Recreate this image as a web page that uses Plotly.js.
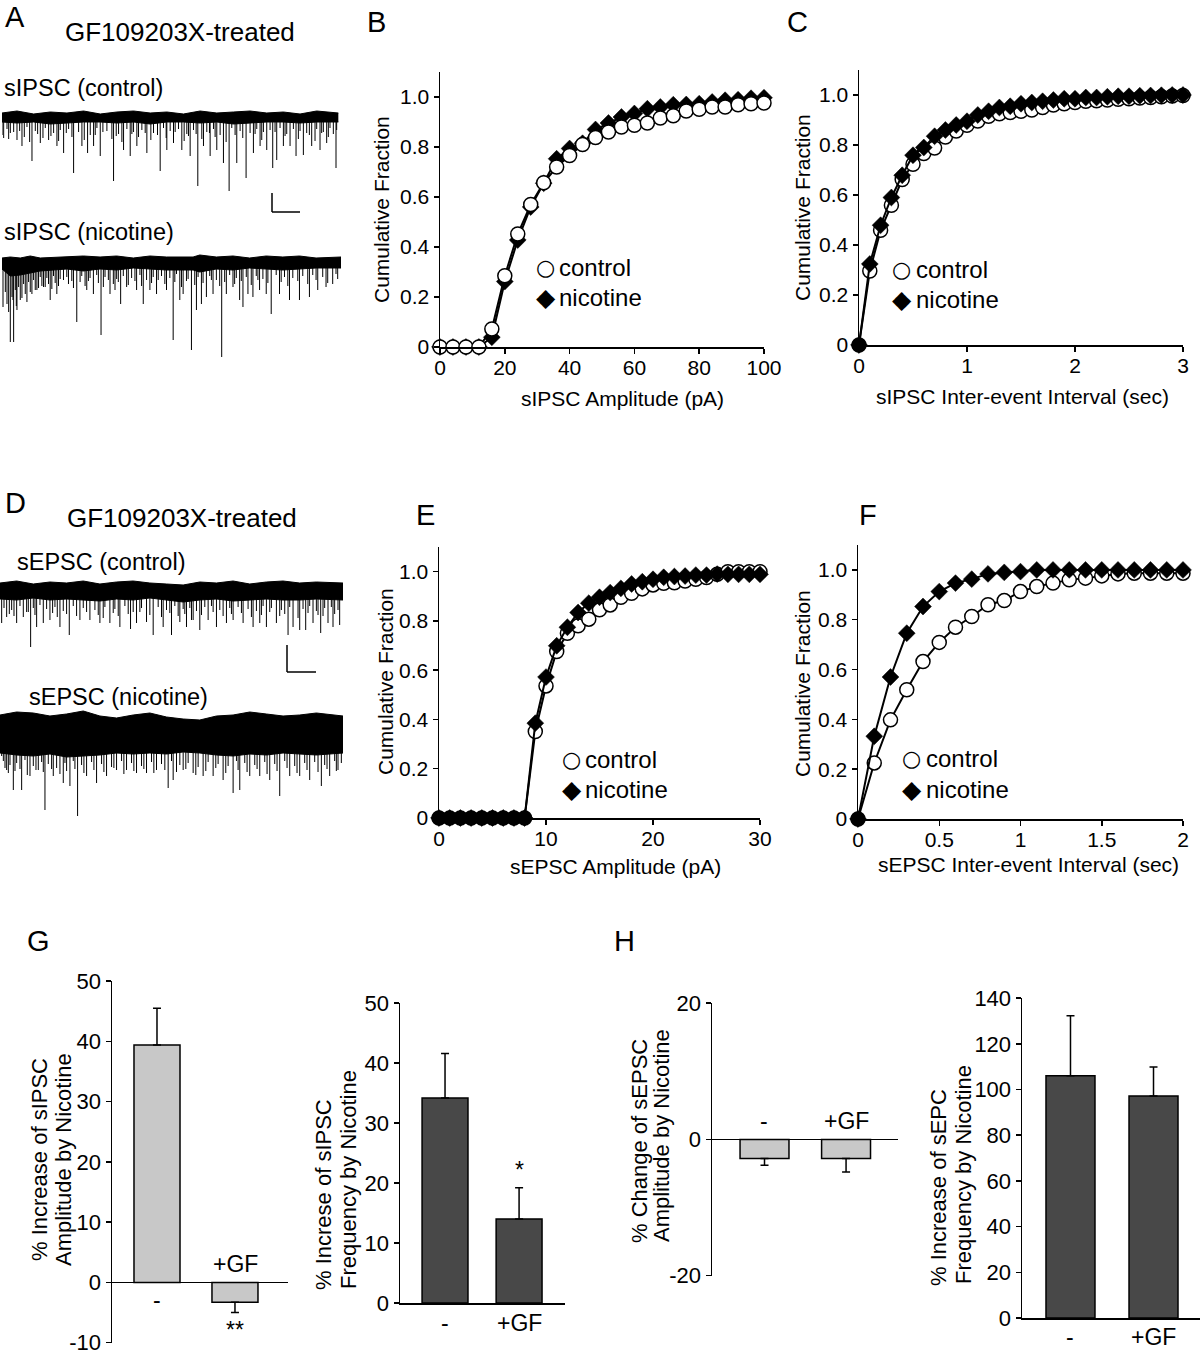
<!DOCTYPE html>
<html><head><meta charset="utf-8">
<script src="https://cdn.plot.ly/plotly-3.0.1.min.js"></script>
<style>html,body{margin:0;padding:0;background:#fff}#chart{width:1200px;height:1354px}</style>
</head><body><div id="chart"></div>
<script>
// ---------- Panel A/D traces (time in s, amplitude in pA, negative = inward) ----------
// large events
const ctlA_t = [0.10,0.30,0.50,0.65,0.95,1.20,1.45,1.70,1.90,2.20,2.45,2.62,2.80,3.00,3.40,3.70,3.90,4.10,4.40,4.80,5.00,5.20,5.45,5.70,5.93,6.10,6.30,6.50,6.70,6.87,7.10,7.38,7.60,7.80,8.00,8.18,8.30,8.50,8.70,8.88,9.10,9.35,9.60,9.80,10.08];
const ctlA_d = [21,16,23,29,44,26,23,29,36,56,29,36,29,39,64,33,39,29,36,54,33,26,33,39,69,29,39,33,46,74,46,61,36,29,33,51,43,29,29,39,38,29,33,26,51];
// medium events
const ctlA_mt = [0.05,0.25,0.58,0.72,0.88,1.12,1.28,1.52,1.75,1.98,2.15,2.52,2.85,3.08,3.35,3.48,3.65,3.95,4.15,4.35,4.52,4.72,4.98,5.25,5.52,5.65,5.88,6.05,6.28,6.45,6.78,7.05,7.28,7.65,7.85,8.25,8.55,8.95,9.28,9.45,9.65,9.85,10.0];
const ctlA_md = [18,22,14,20,25,17,21,19,24,16,20,23,18,15,22,19,25,17,20,16,23,18,21,15,24,19,17,22,16,20,25,18,21,17,23,15,19,22,18,24,16,20,17];
// small events
const ctlA_st = [0.2,0.4,0.8,1.05,1.35,1.6,1.8,2.05,2.35,2.7,2.9,3.2,3.55,3.8,4.0,4.25,4.6,4.9,5.1,5.35,5.6,5.8,6.2,6.4,6.6,6.95,7.2,7.5,7.7,7.9,8.1,8.4,8.6,8.8,9.0,9.2,9.5,9.7,9.9,10.1];
const ctlA_sd = [12,15,10,14,11,16,13,12,15,18,11,14,17,12,15,13,16,11,14,12,17,13,15,12,18,11,14,16,12,15,13,11,17,12,14,16,12,15,11,13];
// baseline noise envelope
const ctlA_envT = [0.05,0.5,1,1.5,2,2.5,3,3.5,4,4.5,5,5.5,6,6.5,7,7.5,8,8.5,9,9.5,10.15];
const ctlA_up = [4,6,3,5,4,6,3,5,6,4,5,3,6,4,5,6,4,5,3,6,4];
const ctlA_lo = [-5,-6,-5,-7,-6,-5,-5,-6,-5,-7,-5,-5,-6,-5,-7,-6,-5,-5,-6,-5,-5];

const nicA_t = [0.30,0.40,0.50,0.60,0.75,0.95,1.10,1.30,1.50,1.70,1.90,2.30,2.60,2.80,3.03,3.30,3.45,3.62,3.80,4.10,4.30,4.50,4.70,5.00,5.20,5.40,5.50,5.75,5.90,6.05,6.20,6.40,6.66,6.80,7.00,7.20,7.30,7.45,7.60,7.80,8.00,8.15,8.40,8.70,9.00,9.30,9.55,9.80,10.00];
const nicA_d = [80,80,48,38,32,32,28,25,38,32,18,60,28,32,73,32,28,42,25,28,42,28,32,28,78,38,32,88,48,42,35,32,95,32,25,38,45,32,35,28,32,52,32,38,38,35,28,25,22];
const nicA_mt = [0.08,0.2,0.25,0.38,0.48,0.65,0.8,0.9,1.05,1.15,1.25,1.35,1.45,1.55,1.65,1.75,2.05,2.2,2.4,2.55,2.65,2.95,3.1,3.25,3.4,3.55,3.85,4.05,4.25,4.55,4.75,4.95,5.25,5.45,5.6,5.85,6.1,6.35,6.6,6.75,7.05,7.25,7.55,7.75,8.05,8.45,8.65,8.95,9.25,9.5,9.85,10.15];
const nicA_md = [45,42,50,38,44,36,40,30,28,26,24,25,22,27,21,24,22,26,20,24,19,21,25,18,22,20,23,19,24,21,18,22,20,25,19,23,21,18,24,20,22,19,23,18,21,20,24,19,22,18,21,17];
const nicA_st = [0.15,0.35,0.45,0.55,0.7,0.85,1.0,1.2,1.4,1.6,1.8,2.0,2.15,2.45,2.7,2.9,3.15,3.5,3.7,3.95,4.2,4.4,4.6,4.85,5.1,5.3,5.65,5.95,6.3,6.5,6.9,7.1,7.4,7.7,7.9,8.3,8.55,8.8,9.1,9.4,9.7,10.1];
const nicA_sd = [30,35,28,25,22,20,18,15,16,14,17,15,19,14,16,13,15,17,14,16,13,18,15,14,16,12,17,15,14,18,13,16,15,14,17,13,15,16,14,13,15,12];
const nicA_envT = [0.05,0.3,0.6,0.9,1.2,2,2.5,3,3.5,4,4.5,5,5.8,6,6.5,7,7.5,8,8.5,9,9.5,10.25];
const nicA_up = [4,5,4,6,4,5,6,5,6,4,6,5,5,7,5,6,4,6,5,6,4,5];
const nicA_lo = [-7,-14,-13,-11,-9,-7,-9,-7,-8,-6,-7,-8,-8,-10,-7,-8,-6,-7,-8,-7,-6,-6];

const ctlD_t = [0.05,0.20,0.50,0.70,0.92,1.10,1.30,1.50,1.80,2.08,2.40,2.70,3.00,3.30,3.60,3.92,4.10,4.40,4.60,4.90,5.15,5.40,5.60,5.80,6.00,6.25,6.50,6.80,7.00,7.30,7.60,7.80,8.00,8.30,8.65,8.80,9.00,9.18,9.40,9.63,9.85,10.00,10.20];
const ctlD_d = [33,27,33,27,57,37,33,30,37,45,30,30,33,33,37,39,33,32,45,37,45,32,37,30,40,30,37,33,30,33,37,33,37,33,45,37,40,40,33,43,33,37,35];
const ctlD_mt = [0.28,0.42,0.85,1.05,1.58,1.72,2.0,2.3,2.6,2.95,3.1,3.4,3.55,3.85,4.2,4.5,4.85,5.1,5.35,5.55,5.75,6.05,6.4,6.7,6.95,7.25,7.55,7.85,8.1,8.4,8.55,8.95,9.25,9.55,9.7,10.05];
const ctlD_md = [24,26,22,25,23,27,24,26,22,25,28,23,26,24,22,25,27,23,26,24,30,25,22,26,24,23,27,25,22,26,24,28,23,25,26,24];
const ctlD_st = [0.12,0.35,0.6,0.8,1.0,1.2,1.4,1.65,1.9,2.2,2.5,2.85,3.15,3.45,3.75,4.0,4.25,4.75,5.0,5.25,5.5,5.7,5.9,6.15,6.35,6.6,6.9,7.15,7.45,7.7,7.9,8.15,8.45,8.7,9.1,9.3,9.5,9.75,9.95,10.15];
const ctlD_sd = [18,20,16,22,18,15,19,17,21,16,18,20,17,19,16,22,18,17,20,16,19,18,21,17,16,20,18,17,19,21,16,18,20,17,19,16,21,18,17,20];
const ctlD_envT = [0,0.5,1,1.5,2,2.5,3,3.5,4,4.5,5,5.5,6,6.5,7,7.5,8,8.5,9,9.5,10.3];
const ctlD_up = [7,9,6,8,7,9,6,8,9,7,6,5,8,7,9,6,8,9,7,8,7];
const ctlD_lo = [-9,-10,-8,-10,-9,-10,-11,-9,-10,-8,-10,-12,-10,-9,-11,-10,-9,-10,-10,-9,-10];

const nicD_t = [0.05,0.20,0.40,0.65,0.90,1.15,1.35,1.60,1.90,2.10,2.33,2.60,2.90,3.20,3.50,3.80,4.10,4.40,4.70,5.05,5.20,5.50,5.80,6.10,6.40,6.70,7.00,7.20,7.50,7.80,8.10,8.40,8.70,9.00,9.30,9.65,9.90,10.15];
const nicD_d = [23,37,57,57,43,37,77,43,50,53,83,43,50,43,37,37,40,40,37,55,47,37,40,43,43,47,60,57,43,43,47,63,43,43,47,53,43,37];
const nicD_mt = [0.15,0.25,0.45,0.6,0.82,1.08,1.3,1.55,1.8,2.0,2.25,2.52,2.82,3.12,3.42,3.72,4.02,4.32,4.62,4.95,5.3,5.58,5.88,6.18,6.48,6.78,7.15,7.42,7.72,8.02,8.32,8.62,8.92,9.22,9.55,9.82,10.1];
const nicD_md = [35,40,38,36,42,37,39,36,41,38,36,40,37,39,35,41,38,36,40,37,39,36,42,38,35,40,37,39,36,41,38,35,40,37,39,36,38];
const nicD_st = [0.1,0.3,0.5,0.75,1.0,1.25,1.45,1.7,1.95,2.2,2.45,2.75,3.05,3.35,3.65,3.95,4.25,4.55,4.85,5.15,5.4,5.65,5.95,6.25,6.55,6.85,7.1,7.35,7.65,7.95,8.25,8.55,8.85,9.15,9.45,9.75,10.05,10.25];
const nicD_sd = [28,32,30,27,33,29,31,35,30,28,32,29,31,34,28,30,33,29,31,28,32,30,34,29,31,33,28,30,32,29,31,28,33,30,29,32,28,30];
const nicD_envT = [0,0.5,1,1.5,2,2.5,3,3.5,4,4.5,5,5.5,6,6.5,7,7.5,8,8.5,9,9.5,10.3];
const nicD_up = [18,21,20,17,19,22,17,15,18,20,16,14,13,17,18,21,19,17,18,20,17];
const nicD_lo = [-20,-22,-23,-21,-24,-23,-22,-20,-21,-20,-21,-19,-20,-22,-23,-21,-22,-20,-21,-22,-20];

// ---------- Panel B: sIPSC amplitude cumulative ----------
const B_x = [0,4,8,12,16,20,24,28,32,36,40,44,48,52,56,60,64,68,72,76,80,84,88,92,96,100];
const B_ctl = [0,0,0,0,0.072,0.285,0.452,0.57,0.657,0.72,0.766,0.81,0.838,0.86,0.88,0.887,0.896,0.916,0.925,0.944,0.951,0.96,0.96,0.969,0.973,0.976];
const B_nic = [0,0,0,0,0.039,0.262,0.428,0.56,0.655,0.753,0.794,0.815,0.87,0.896,0.92,0.934,0.953,0.96,0.969,0.97,0.973,0.98,0.987,0.989,0.995,0.997];

// ---------- Panel C: sIPSC inter-event interval cumulative ----------
const C_x = [0,0.1,0.2,0.3,0.4,0.5,0.6,0.7,0.8,0.9,1.0,1.1,1.2,1.3,1.4,1.5,1.6,1.7,1.8,1.9,2.0,2.1,2.2,2.3,2.4,2.5,2.6,2.7,2.8,2.9,3.0];
const C_ctl = [0,0.296,0.459,0.559,0.662,0.723,0.766,0.788,0.832,0.856,0.879,0.896,0.915,0.925,0.93,0.935,0.94,0.95,0.96,0.965,0.97,0.975,0.977,0.98,0.983,0.985,0.988,0.99,0.993,0.996,0.998];
const C_nic = [0,0.324,0.479,0.59,0.679,0.759,0.79,0.835,0.86,0.88,0.895,0.92,0.935,0.95,0.955,0.965,0.97,0.975,0.98,0.985,0.985,0.99,0.99,0.993,0.995,0.995,0.997,0.998,0.999,1.0,1.0];

// ---------- Panel E: sEPSC amplitude cumulative ----------
const E_x = [0,1,2,3,4,5,6,7,8,9,10,11,12,13,14,15,16,17,18,19,20,21,22,23,24,25,26,27,28,29,30];
const E_ctl = [0,0,0,0,0,0,0,0,0,0.351,0.536,0.676,0.75,0.78,0.807,0.845,0.865,0.896,0.912,0.93,0.946,0.953,0.955,0.962,0.969,0.976,0.989,1.0,1.0,1.0,1.0];
const E_nic = [0,0,0,0,0,0,0,0,0,0.385,0.572,0.699,0.774,0.834,0.872,0.896,0.915,0.932,0.95,0.959,0.969,0.977,0.98,0.982,0.986,0.986,0.99,0.989,0.989,0.989,0.989];

// ---------- Panel F: sEPSC inter-event interval cumulative ----------
const F_x = [0,0.1,0.2,0.3,0.4,0.5,0.6,0.7,0.8,0.9,1.0,1.1,1.2,1.3,1.4,1.5,1.6,1.7,1.8,1.9,2.0];
const F_ctl = [0,0.225,0.398,0.519,0.632,0.709,0.77,0.813,0.86,0.877,0.913,0.933,0.947,0.96,0.967,0.976,0.984,0.987,0.987,0.987,0.987];
const F_nic = [0,0.332,0.57,0.746,0.853,0.913,0.947,0.963,0.984,0.99,0.993,1.0,1.0,1.0,1.0,1.0,1.0,1.0,1.0,1.0,1.0];

// ---------- Panels G/H: bar charts ----------
const barCats = ['-', '+GF'];
const G1_mean = [39.4, -3.3], G1_err = [6.1, 1.7];
const G2_mean = [34.2, 14.0], G2_err = [7.4, 5.2];
const H1_mean = [-2.8, -2.8], H1_err = [1.0, 2.0];
const H2_mean = [106.0, 97.2], H2_err = [26.3, 12.6];

// ================= rendering =================
const W = 1200, H = 1354;
const px = x => x / W, py = y => 1 - y / H;
const FONT = 'Liberation Sans, Arial, Helvetica, sans-serif';
const traces = [];
const layout = {
  width: W, height: H, margin: {l:0, r:0, t:0, b:0},
  paper_bgcolor: '#fff', plot_bgcolor: 'rgba(0,0,0,0)',
  showlegend: false, font: {family: FONT, color: '#000'},
  annotations: [], shapes: []
};
function axName(n, c) { return c + (n === 1 ? '' : n); }
function setAxes(n, x0, x1, yTop, yBot, xr, yr, xo, yo) {
  layout['xaxis' + (n === 1 ? '' : n)] = Object.assign({
    domain: [px(x0), px(x1)], range: xr, anchor: axName(n, 'y'),
    showgrid: false, zeroline: false, fixedrange: true
  }, xo || {});
  layout['yaxis' + (n === 1 ? '' : n)] = Object.assign({
    domain: [py(yBot), py(yTop)], range: yr, anchor: axName(n, 'x'),
    showgrid: false, zeroline: false, fixedrange: true
  }, yo || {});
}
function ann(text, x, y, size, o) {
  layout.annotations.push(Object.assign({
    text: text, x: px(x), y: py(y), xref: 'paper', yref: 'paper',
    showarrow: false, xanchor: 'center', yanchor: 'middle',
    font: {family: FONT, size: size, color: '#000'}
  }, o || {}));
}
const hidden = {visible: false};

// ---- recordings ----
function recording(n, envT, up, lo, events) {
  const xa = axName(n, 'x'), ya = axName(n, 'y');
  traces.push({x: envT, y: up, xaxis: xa, yaxis: ya, type: 'scatter', mode: 'lines', line: {color: '#000', width: 1}, hoverinfo: 'skip'});
  traces.push({x: envT, y: lo, xaxis: xa, yaxis: ya, type: 'scatter', mode: 'lines', fill: 'tonexty', fillcolor: '#000', line: {color: '#000', width: 1}, hoverinfo: 'skip'});
  const sx = [], sy = [];
  events.forEach(ev => ev[0].forEach((v, i) => { sx.push(v, v, null); sy.push(0, -ev[1][i], null); }));
  traces.push({x: sx, y: sy, xaxis: xa, yaxis: ya, type: 'scatter', mode: 'lines', line: {color: '#000', width: 1}, hoverinfo: 'skip', connectgaps: false});
}
setAxes(1, 2, 340, 95, 200, [0.05, 10.2], [-83, 22], hidden, hidden);
recording(1, ctlA_envT, ctlA_up, ctlA_lo, [[ctlA_t, ctlA_d], [ctlA_mt, ctlA_md], [ctlA_st, ctlA_sd]]);
setAxes(2, 2, 341, 240, 365, [0.05, 10.25], [-103, 22], hidden, hidden);
recording(2, nicA_envT, nicA_up, nicA_lo, [[nicA_t, nicA_d], [nicA_mt, nicA_md], [nicA_st, nicA_sd]]);
setAxes(5, 0, 343, 570, 655, [0, 10.3], [-65, 20], hidden, hidden);
recording(5, ctlD_envT, ctlD_up, ctlD_lo, [[ctlD_t, ctlD_d], [ctlD_mt, ctlD_md], [ctlD_st, ctlD_sd]]);
setAxes(6, 0, 343, 700, 822, [0, 10.3], [-89, 33], hidden, hidden);
recording(6, nicD_envT, nicD_up, nicD_lo, [[nicD_t, nicD_d], [nicD_mt, nicD_md], [nicD_st, nicD_sd]]);

// scale bars
function seg(x0, y0, x1, y1) {
  layout.shapes.push({type: 'line', xref: 'paper', yref: 'paper', x0: px(x0), y0: py(y0), x1: px(x1), y1: py(y1), line: {color: '#000', width: 1.5}});
}
seg(272, 193, 272, 212); seg(272, 212, 300, 212);
seg(287, 645, 287, 672); seg(287, 672, 316, 672);

// ---- cumulative plots ----
const cumAx = {showline: true, linecolor: '#000', linewidth: 1.5, ticks: 'outside', ticklen: 5, tickwidth: 1.5, tickcolor: '#000', tickfont: {family: FONT, size: 21, color: '#000'}};
const xCum = Object.assign({}, cumAx, {ticklabelstandoff: -4});
const yCum = Object.assign({}, cumAx, {tickvals: [0, 0.2, 0.4, 0.6, 0.8, 1.0], ticktext: ['0', '0.2', '0.4', '0.6', '0.8', '1.0']});
function cum(n, x, ctl, nic, ctlOnTop) {
  const xa = axName(n, 'x'), ya = axName(n, 'y');
  const fill = ctlOnTop ? '#fff' : ctl.map(v => v === 0 ? '#000' : '#fff');
  const tc = {x: x, y: ctl, xaxis: xa, yaxis: ya, type: 'scatter', mode: 'lines+markers', cliponaxis: false,
    line: {color: '#000', width: 2}, marker: {symbol: 'circle', size: 14, color: fill, line: {color: '#000', width: 1.5}}, hoverinfo: 'skip'};
  const tn = {x: x, y: nic, xaxis: xa, yaxis: ya, type: 'scatter', mode: 'lines+markers', cliponaxis: false,
    line: {color: '#000', width: 2}, marker: {symbol: 'diamond', size: 13, color: '#000', line: {color: '#000', width: 0.5}}, hoverinfo: 'skip'};
  if (ctlOnTop) traces.push(tn, tc); else traces.push(tc, tn);
}
setAxes(3, 440, 764, 72, 347, [0, 100], [0, 1.1], Object.assign({}, xCum, {tickvals: [0, 20, 40, 60, 80, 100]}), yCum);
cum(3, B_x, B_ctl, B_nic, true);
setAxes(4, 859, 1183, 70, 345, [0, 3], [0, 1.1], Object.assign({}, xCum, {tickvals: [0, 1, 2, 3]}), yCum);
cum(4, C_x, C_ctl, C_nic, false);
setAxes(7, 439, 760, 547, 818, [0, 30], [0, 1.1], Object.assign({}, xCum, {tickvals: [0, 10, 20, 30]}), yCum);
cum(7, E_x, E_ctl, E_nic, false);
setAxes(8, 858, 1183, 545, 819, [0, 2], [0, 1.1], Object.assign({}, xCum, {tickvals: [0, 0.5, 1, 1.5, 2], ticktext: ['0', '0.5', '1', '1.5', '2']}), yCum);
cum(8, F_x, F_ctl, F_nic, false);

// ---- bar charts ----
const barY = {showline: true, linecolor: '#000', linewidth: 1.5, ticks: 'outside', ticklen: 5, tickwidth: 1.5, tickcolor: '#000',
  ticklabeloverflow: 'allow', tickfont: {family: FONT, size: 22, color: '#000'}};
function bars(n, mean, err, color, width) {
  traces.push({
    x: [0, 1], y: mean, type: 'bar', width: width, xaxis: axName(n, 'x'), yaxis: axName(n, 'y'),
    marker: {color: color, line: {color: '#000', width: 1.5}}, hoverinfo: 'skip', cliponaxis: false,
    error_y: {type: 'data', symmetric: false, array: mean.map((m, i) => m >= 0 ? err[i] : 0),
      arrayminus: mean.map((m, i) => m < 0 ? err[i] : 0), color: '#000', thickness: 1.5, width: 4}
  });
}
const noX = {showline: false, showticklabels: false, ticks: ''};
const lineX = {showline: true, linecolor: '#000', linewidth: 1.5, showticklabels: false, ticks: ''};
setAxes(9, 112, 288, 981, 1343, [-0.577, 1.68], [-10.06, 50.02], noX,
  Object.assign({}, barY, {tickvals: [-10, 0, 10, 20, 30, 40, 50], ticktext: ['-10', '0', '10', '20', '30', '40', '50'], zeroline: true, zerolinecolor: '#000', zerolinewidth: 1.5}));
bars(9, G1_mean, G1_err, '#c8c8c8', 0.59);
setAxes(10, 400, 565, 1003, 1303, [-0.608, 1.62], [0, 50.02], lineX,
  Object.assign({}, barY, {tickvals: [0, 10, 20, 30, 40, 50]}));
bars(10, G2_mean, G2_err, '#484848', 0.62);
setAxes(11, 712, 898, 1003, 1276, [-0.644, 1.637], [-20.05, 20.02], noX,
  Object.assign({}, barY, {tickvals: [-20, 0, 20], ticktext: ['-20', '0', '20'], zeroline: true, zerolinecolor: '#000', zerolinewidth: 1.5}));
bars(11, H1_mean, H1_err, '#c8c8c8', 0.6);
setAxes(12, 1022, 1200, 998, 1318, [-0.584, 1.56], [0, 140.05], lineX,
  Object.assign({}, barY, {tickvals: [0, 20, 40, 60, 80, 100, 120, 140]}));
bars(12, H2_mean, H2_err, '#484848', 0.59);

// ---- text ----
[['A', 3, 17], ['B', 365, 22], ['C', 785, 22], ['D', 3, 503], ['E', 414, 515], ['F', 857, 515], ['G', 25, 941], ['H', 612, 941]]
  .forEach(a => ann(a[0], a[1], a[2], 29, {xanchor: 'left'}));
ann('GF109203X-treated', 180, 32, 26);
ann('GF109203X-treated', 182, 518, 26);
ann('sIPSC (control)', 2, 88, 23.5, {xanchor: 'left'});
ann('sIPSC (nicotine)', 2, 232, 23.5, {xanchor: 'left'});
ann('sEPSC (control)', 15, 562, 23.5, {xanchor: 'left'});
ann('sEPSC (nicotine)', 27, 697, 23.5, {xanchor: 'left'});

// cumulative axis titles
ann('sIPSC Amplitude (pA)', 622, 398, 21);
ann('Cumulative Fraction', 382, 210, 21, {textangle: -90});
ann('sIPSC Inter-event Interval (sec)', 1022, 396, 21);
ann('Cumulative Fraction', 803, 208, 21, {textangle: -90});
ann('sEPSC Amplitude (pA)', 615, 866, 21);
ann('Cumulative Fraction', 385, 682, 21, {textangle: -90});
ann('sEPSC Inter-event Interval (sec)', 1028, 864, 21);
ann('Cumulative Fraction', 802, 684, 21, {textangle: -90});

// in-plot legends
function legend(xs, xt, yc, yn) {
  ann('○', xs, yc, 22, {font: {family: 'DejaVu Sans', size: 22, color: '#000'}});
  ann('◆', xs + 1, yn, 25, {font: {family: 'DejaVu Sans', size: 25, color: '#000'}});
  ann('control', xt, yc, 24, {xanchor: 'left'});
  ann('nicotine', xt, yn, 24, {xanchor: 'left'});
}
legend(545, 557, 268, 298);
legend(901, 914, 269, 300);
legend(571, 583, 759, 790);
legend(911, 924, 758, 789);

// bar titles and labels
const T = (s, x, y) => ann(s, x, y, 22, {textangle: -90});
T('% Increase of sIPSC', 39, 1160); T('Amplitude by Nicotine', 63, 1160);
T('% Increse of sIPSC', 323, 1195); T('Frequency by Nicotine', 348, 1180);
T('% Change of sEPSC', 639, 1141); T('Amplitude by Nicotine', 661, 1136);
T('% Increase of sEPC', 938, 1188); T('Frequency by Nicotine', 963, 1175);
ann(barCats[0], 157, 1300, 23); ann(barCats[1], 235, 1264, 23); ann('**', 235, 1330, 23);
ann(barCats[0], 445, 1323, 23); ann(barCats[1], 519, 1323, 23); ann('*', 519, 1170, 23);
ann(barCats[0], 764, 1121, 23); ann(barCats[1], 846, 1121, 23);
ann(barCats[0], 1070, 1337, 23); ann(barCats[1], 1153, 1337, 23);

Plotly.newPlot('chart', traces, layout, {displayModeBar: false, staticPlot: true});
</script></body></html>
